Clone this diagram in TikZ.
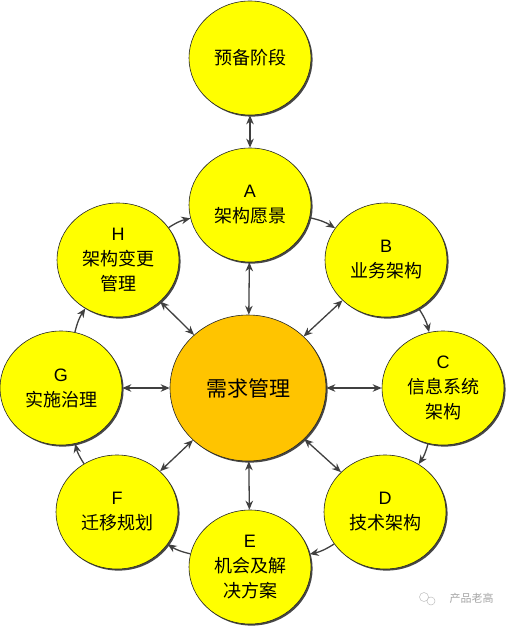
\documentclass[tikz,border=0pt]{standalone}
\usepackage{fontspec}
\setmainfont{Liberation Sans}
\newfontfamily\cjk{Noto Sans CJK SC}
\usetikzlibrary{shapes.geometric,arrows.meta,shadows}
\definecolor{phaseyellow}{HTML}{FFFF00}
\definecolor{centerorange}{HTML}{FFC400}
\definecolor{arrowgray}{HTML}{404040}
\begin{document}
\begin{tikzpicture}[x=1pt,y=-1pt,
  phase/.style={ellipse, draw=black!85, line width=0.6pt, fill=phaseyellow,
    minimum width=122pt, minimum height=114pt, inner sep=0pt, align=center,
    font=\fontsize{18}{25}\selectfont,
    drop shadow={shadow xshift=1.6pt, shadow yshift=-1.6pt, fill=black!80, opacity=0.9}},
  hub/.style={phase, fill=centerorange, minimum width=156pt, minimum height=146pt,
    font=\fontsize{21}{26}\selectfont},
  twoway/.style={draw=arrowgray, line width=1.3pt,
    {Stealth[length=9pt,width=7.5pt]}-{Stealth[length=9pt,width=7.5pt]}},
  oneway/.style={draw=arrowgray, line width=1.3pt, -{Stealth[length=9pt,width=7.5pt]}}
]
\useasboundingbox (0,0) rectangle (509,627);
\fill[white] (0,0) rectangle (509,627);

\node[phase] (P) at (250,58) {\cjk 预备阶段};
\node[phase] (A) at (250,205) {A\\{\cjk 架构愿景}};
\node[phase] (B) at (386,260) {B\\{\cjk 业务架构}};
\node[phase] (C) at (443,388) {C\\{\cjk 信息系统}\\{\cjk 架构}};
\node[phase] (D) at (385,512) {D\\{\cjk 技术架构}};
\node[phase] (E) at (250,567) {E\\{\cjk 机会及解}\\{\cjk 决方案}};
\node[phase] (F) at (117,512) {F\\{\cjk 迁移规划}};
\node[phase] (G) at (61,388) {G\\{\cjk 实施治理}};
\node[phase] (H) at (118,260) {H\\{\cjk 架构变更}\\{\cjk 管理}};
\node[hub] (M) at (248,388) {\cjk 需求管理};

\draw[twoway] (P) -- (A);
\foreach \n in {A,B,C,D,E,F,G,H}
  \draw[twoway] (M) -- (\n);

\draw[oneway] (A) to[bend left=10] (B);
\draw[oneway] (B) to[bend left=10] (C);
\draw[oneway] (C) to[bend left=10] (D);
\draw[oneway] (D) to[bend left=10] (E);
\draw[oneway] (E) to[bend left=10] (F);
\draw[oneway] (F) to[bend left=10] (G);
\draw[oneway] (G) to[bend left=10] (H);
\draw[oneway] (H) to[bend left=10] (A);

\node[text=black!35, font=\cjk\fontsize{11}{11}\selectfont, anchor=west] (W) at (446,598) {产品老高};
\draw[black!25, line width=0.5pt] (424,597) circle[radius=4.5pt] (431,601) circle[radius=4pt];
\end{tikzpicture}
\end{document}
